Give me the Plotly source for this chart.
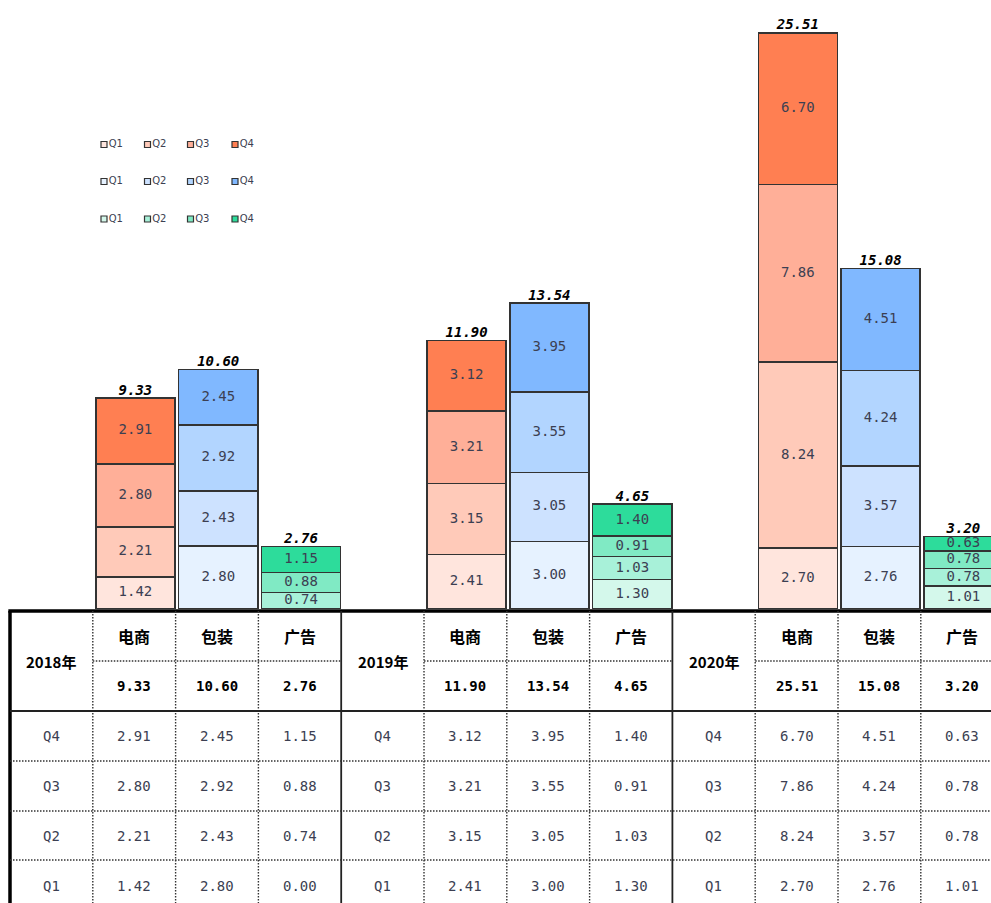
import plotly.graph_objects as go

# ---------------- data ----------------
years = ["2018年", "2019年", "2020年"]
categories = ["电商", "包装", "广告"]
quarters = ["Q1", "Q2", "Q3", "Q4"]

# quarterly values per year, order [Q1, Q2, Q3, Q4]
dianshang = [[1.42, 2.21, 2.80, 2.91],
             [2.41, 3.15, 3.21, 3.12],
             [2.70, 8.24, 7.86, 6.70]]
baozhuang = [[2.80, 2.43, 2.92, 2.45],
             [3.00, 3.05, 3.55, 3.95],
             [2.76, 3.57, 4.24, 4.51]]
guanggao = [[0.00, 0.74, 0.88, 1.15],
            [1.30, 1.03, 0.91, 1.40],
            [1.01, 0.78, 0.78, 0.63]]

dianshang_total = [9.33, 11.90, 25.51]
baozhuang_total = [10.60, 13.54, 15.08]
guanggao_total = [2.76, 4.65, 3.20]

series = [dianshang, baozhuang, guanggao]
series_total = [dianshang_total, baozhuang_total, guanggao_total]

colors = [
    ["#FFE5DD", "#FFCAB9", "#FFAF98", "#FF7F52"],
    ["#E6F2FF", "#CDE2FF", "#B2D5FF", "#80B8FF"],
    ["#D4F8EB", "#A8F1D9", "#80EAC4", "#2DDC9B"],
]

# ---------------- layout helpers ----------------
W, H = 991, 903
COL_W = 82.8          # pixel width of a table column
LEFT = 10             # pixel x of table left border
BASE = 609            # pixel y of bar baseline
SCALE = 22.58         # pixels per unit

def py(p):            # pixel y -> paper y
    return 1 - p / H

def col(i, j):        # year i, category j -> column index
    return 4 * i + 1 + j

xmin = -0.5 - LEFT / COL_W
xmax = (W - LEFT) / COL_W - 0.5
ymax = BASE / SCALE

VAL_FONT = dict(family="DejaVu Sans Mono", size=14, color="#3c3f52")
CJK = "Noto Sans CJK SC"

fig = go.Figure()

# ---------------- bars ----------------
for j, cat in enumerate(categories):
    data = series[j]
    for q in range(4):
        xs = [col(i, j) + 0.015 for i in range(len(years))]
        ys = [data[i][q] for i in range(len(years))]
        fig.add_trace(go.Bar(
            x=xs, y=ys, width=[0.955] * len(xs),
            marker=dict(color=colors[j][q], line=dict(color="#333333", width=1.5)),
            name=f"{cat}{quarters[q]}", hoverinfo="skip",
        ))

# segment value labels
for j in range(3):
    data = series[j]
    lx, ly, lt = [], [], []
    for i in range(len(years)):
        base = 0.0
        for q in range(4):
            v = data[i][q]
            if v > 0:
                lx.append(col(i, j) + 0.015)
                ly.append(base + v / 2)
                lt.append(f"{v:.2f}")
            base += v
    fig.add_trace(go.Scatter(x=lx, y=ly, text=lt, mode="text",
                             textfont=VAL_FONT, hoverinfo="skip"))

# totals above bars
for j in range(3):
    fig.add_trace(go.Scatter(
        x=[col(i, j) + 0.015 for i in range(len(years))],
        y=series_total[j],
        text=[f"{t:.2f}" for t in series_total[j]],
        mode="text", textposition="top center",
        textfont=dict(family="DejaVu Sans Mono", size=14, color="black",
                      weight="bold", style="italic"),
        hoverinfo="skip", cliponaxis=False,
    ))

# ---------------- legend (pixel overlay axes) ----------------
leg_x = [104, 147.5, 190.5, 235]
leg_y = [144.5, 181.5, 219]
for j in range(3):
    fig.add_trace(go.Scatter(
        x=leg_x, y=[leg_y[j]] * 4, xaxis="x2", yaxis="y2",
        mode="markers+text", text=quarters, textposition="middle right",
        textfont=dict(family="DejaVu Sans", size=10, color="#3c3f52"),
        marker=dict(symbol="square", size=6, color=colors[j],
                    line=dict(color="#333333", width=1.2)),
        hoverinfo="skip",
    ))

# ---------------- table ----------------
shapes = []
SOLID = dict(color="#222222", width=1.8)
DOT = dict(color="#333333", width=1.4, dash="1.5px,1.5px")
right_end = xmax + 1
# top thick line
shapes.append(dict(type="line", xref="x", yref="paper", x0=-0.5 - 0.02, x1=right_end,
                   y0=py(611), y1=py(611), line=dict(color="black", width=3.5)))
# left thick border
shapes.append(dict(type="line", xref="x", yref="paper", x0=-0.5, x1=-0.5,
                   y0=py(611), y1=-0.05, line=dict(color="black", width=3.5)))
# vertical lines
for k in range(1, 12):
    xb = k - 0.5
    style = SOLID if k % 4 == 0 else DOT
    shapes.append(dict(type="line", xref="x", yref="paper", x0=xb, x1=xb,
                       y0=py(611), y1=-0.05, line=style))
# dotted line between header and totals (category columns only)
for i in range(len(years)):
    x1 = 4 * i + 3.5 if i < len(years) - 1 else right_end
    shapes.append(dict(type="line", xref="x", yref="paper", x0=4 * i + 0.5, x1=x1,
                       y0=py(661), y1=py(661), line=DOT))
# solid line below totals
shapes.append(dict(type="line", xref="x", yref="paper", x0=-0.5, x1=right_end,
                   y0=py(711), y1=py(711), line=SOLID))
# dotted row separators
for p in [761, 811, 860]:
    shapes.append(dict(type="line", xref="x", yref="paper", x0=-0.5, x1=right_end,
                       y0=py(p), y1=py(p), line=DOT))

annotations = []
def ann(x, ypix, text, font):
    annotations.append(dict(x=x, y=py(ypix), xref="x", yref="paper", text=text,
                            showarrow=False, font=font, xanchor="center",
                            yanchor="middle"))

for i, yr in enumerate(years):
    ann(4 * i, 661, yr, dict(family=CJK, size=15, color="black", weight="bold"))
    for j, cat in enumerate(categories):
        ann(col(i, j), 636, cat, dict(family=CJK, size=16, color="black", weight="bold"))
        ann(col(i, j), 686, f"{series_total[j][i]:.2f}",
            dict(family="DejaVu Sans Mono", size=14, color="black", weight="bold"))
    for r in range(4):
        q = 3 - r
        yp = 736 + 50 * r
        ann(4 * i, yp, quarters[q], VAL_FONT)
        for j in range(3):
            ann(col(i, j), yp, f"{series[j][i][q]:.2f}", VAL_FONT)

fig.update_layout(
    width=W, height=H,
    margin=dict(l=0, r=0, t=0, b=0),
    paper_bgcolor="white", plot_bgcolor="rgba(0,0,0,0)",
    barmode="stack", showlegend=False,
    xaxis=dict(range=[xmin, xmax], visible=False, domain=[0, 1]),
    yaxis=dict(range=[0, ymax], visible=False, domain=[1 - BASE / H, 1]),
    xaxis2=dict(range=[0, W], visible=False, domain=[0, 1], anchor="y2"),
    yaxis2=dict(range=[H, 0], visible=False, domain=[0, 1], anchor="x2"),
    shapes=shapes, annotations=annotations,
)

fig.write_html("out.html")
